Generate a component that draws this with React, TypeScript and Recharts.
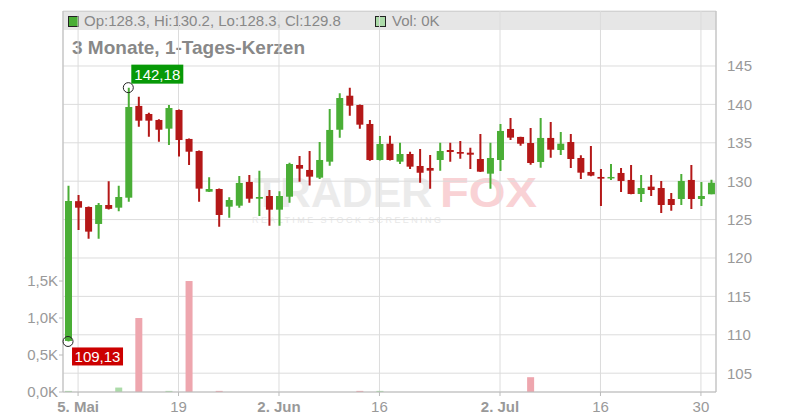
import React from "react"
import { ComposedChart, Bar, XAxis, YAxis, CartesianGrid, ReferenceDot } from "recharts"

// trading days, 2 May – 31 Jul
const dates = [
  "02.05", "05.05", "06.05", "07.05", "08.05", "09.05", "12.05", "13.05", "14.05", "15.05", "16.05",
  "19.05", "20.05", "21.05", "22.05", "23.05", "26.05", "27.05", "28.05", "29.05", "30.05",
  "02.06", "03.06", "04.06", "05.06", "06.06", "09.06", "10.06", "11.06", "12.06", "13.06",
  "16.06", "17.06", "18.06", "19.06", "20.06", "23.06", "24.06", "25.06", "26.06", "27.06", "30.06",
  "01.07", "02.07", "03.07", "04.07", "07.07", "08.07", "09.07", "10.07", "11.07",
  "14.07", "15.07", "16.07", "17.07", "18.07", "21.07", "22.07", "23.07", "24.07", "25.07",
  "28.07", "29.07", "30.07", "31.07",
]
const opens = [
  109.2, 127.4, 126.64, 124.43, 126.9, 126.55, 127.85, 139.8, 138.75, 137.97, 136.84,
  139.27, 135.5, 133.93, 128.63, 128.98, 126.68, 126.81, 129.9, 127.72, 128.07,
  126.29, 127.98, 132.11, 131.46, 130.46, 132.54, 136.7, 141.13, 139.92, 137.45,
  132.76, 134.88, 132.54, 133.54, 131.98, 131.72, 132.76, 134.06, 133.8, 133.71, 132.89,
  130.98, 132.76, 136.8, 135.76, 134.97, 132.5, 135.63, 134.06, 135.1,
  133.02, 131.2, 130.55, 130.4, 131.07, 130.16, 128.33, 129.29, 129.11, 127.68,
  127.68, 130.16, 127.68, 128.3,
]
const highs = [
  129.4, 128.2, 126.7, 127.16, 130.0, 129.4, 142.18, 141.0, 138.9, 138.05, 139.92,
  139.35, 135.55, 134.0, 130.5, 129.05, 127.9, 130.68, 130.8, 131.37, 128.85,
  128.7, 132.4, 133.28, 133.93, 135.1, 139.4, 141.44, 142.17, 140.0, 137.97,
  135.9, 135.93, 135.0, 133.84, 134.19, 133.41, 135.0, 135.0, 135.23, 134.36, 136.15,
  135.0, 137.45, 138.23, 135.8, 136.93, 138.23, 137.7, 136.4, 136.15,
  133.37, 134.58, 131.59, 132.24, 131.72, 132.11, 130.81, 130.81, 130.03, 128.46,
  130.94, 132.11, 129.9, 130.2,
]
const lows = [
  109.13, 123.65, 122.5, 122.5, 126.3, 126.1, 127.33, 137.1, 135.8, 135.14, 134.7,
  133.2, 132.1, 127.33, 128.6, 124.07, 125.25, 126.55, 127.2, 125.47, 124.2,
  124.2, 127.2, 129.93, 129.45, 130.3, 132.02, 135.67, 138.53, 136.84, 132.67,
  132.7, 132.7, 132.24, 131.59, 129.8, 129.02, 131.37, 132.54, 132.93, 131.59, 131.2,
  129.02, 131.33, 135.36, 134.62, 132.15, 131.76, 133.06, 133.41, 131.72,
  130.29, 130.65, 126.77, 130.16, 128.59, 128.3, 127.29, 128.07, 125.86, 126.16,
  126.9, 126.38, 126.77, 128.3,
]
const closes = [
  127.42, 126.55, 123.43, 126.9, 126.4, 127.94, 139.66, 137.88, 137.88, 136.7, 139.53,
  135.36, 133.84, 129.03, 128.98, 125.6, 127.55, 129.77, 127.72, 127.94, 126.29,
  128.07, 132.24, 131.63, 130.59, 132.76, 136.67, 140.83, 139.83, 137.36, 132.76,
  134.84, 132.76, 133.54, 131.89, 131.1, 131.37, 133.93, 133.8, 133.58, 133.45, 131.24,
  133.02, 136.54, 135.67, 134.88, 132.37, 135.63, 134.1, 134.88, 132.89,
  131.11, 130.72, 130.33, 130.55, 130.03, 128.33, 129.11, 128.85, 126.9, 126.9,
  130.03, 127.68, 128.07, 129.8,
]
const volumes = [
  15, 0, 0, 0, 0, 60, 0, 1000, 0, 0, 15,
  0, 1500, 0, 0, 15, 0, 0, 0, 0, 0,
  0, 0, 0, 0, 0, 0, 0, 0, 15, 0,
  15, 0, 0, 0, 0, 0, 0, 0, 0, 0, 0,
  0, 0, 0, 0, 200, 0, 0, 0, 0,
  0, 0, 0, 0, 0, 0, 0, 0, 0, 0,
  0, 0, 0, 0,
]

const dateTicks = ["05.05", "19.05", "02.06", "16.06", "02.07", "16.07", "30.07"]
const dateTickLabels = ["5. Mai", "19", "2. Jun", "16", "2. Jul", "16", "30"]
const boldTickLabels = ["5. Mai", "2. Jun", "2. Jul"]
const priceTicks = [105, 110, 115, 120, 125, 130, 135, 140, 145]
const volumeTicks = [0, 500, 1000, 1500]

const GREEN = "#4aae36"
const RED = "#b41818"
const VOL_GREEN = "#acdba9"
const VOL_RED = "#eea6ae"
const FONT = "'Liberation Sans', Arial, sans-serif"

const data = dates.map((d, i) => ({
  d,
  o: opens[i],
  h: highs[i],
  l: lows[i],
  c: closes[i],
  range: [lows[i], highs[i]],
  vol: volumes[i],
}))

const hiIdx = highs.indexOf(Math.max(...highs))
const loIdx = lows.indexOf(Math.min(...lows))

const fmt = (v: number) => v.toFixed(2).replace(".", ",")

function Candle(props: any) {
  const { x, y, width, height, payload } = props
  if (!payload) return null
  const { o, h, l, c } = payload
  const top = Math.min(y, y + height)
  const span = Math.abs(height)
  const k = h > l ? span / (h - l) : 0
  const color = c >= o ? GREEN : RED
  const bodyTop = top + (h - Math.max(o, c)) * k
  const bodyH = Math.max(1.5, Math.abs(o - c) * k)
  const mid = x + width / 2
  return (
    <g>
      <line x1={mid} x2={mid} y1={top} y2={top + span} stroke={color} strokeWidth={2} />
      <rect x={x} y={bodyTop} width={width} height={bodyH} fill={color} />
    </g>
  )
}

function VolumeBar(props: any) {
  const { x, y, width, height, payload } = props
  if (!payload || !height) return null
  const fill = payload.c >= payload.o ? VOL_GREEN : VOL_RED
  return <rect x={x} y={Math.min(y, y + height)} width={width} height={Math.abs(height)} fill={fill} />
}

function DateTick(props: any) {
  const { x, y, payload } = props
  const label = dateTickLabels[dateTicks.indexOf(payload.value)]
  return (
    <text
      x={x}
      y={y}
      dy="0.71em"
      textAnchor="middle"
      fill="#999"
      fontSize={15}
      fontFamily={FONT}
      fontWeight={boldTickLabels.includes(label) ? "bold" : "normal"}
    >
      {label}
    </text>
  )
}

function HighMark(props: any) {
  const { cx, cy } = props
  return (
    <g>
      <circle cx={cx} cy={cy} r={5} fill="none" stroke="#222" strokeWidth={1} />
      <rect x={cx + 3} y={cy - 23} width={52} height={19} fill="#079907" />
      <text x={cx + 29} y={cy - 8} textAnchor="middle" fill="#fff" fontSize={15} fontFamily={FONT}>
        {fmt(highs[hiIdx])}
      </text>
    </g>
  )
}

function LowMark(props: any) {
  const { cx, cy } = props
  return (
    <g>
      <circle cx={cx} cy={cy} r={5} fill="none" stroke="#222" strokeWidth={1} />
      <rect x={cx + 4} y={cy + 6} width={51} height={18} fill="#cc0000" />
      <text x={cx + 29.5} y={cy + 20.5} textAnchor="middle" fill="#fff" fontSize={15} fontFamily={FONT}>
        {fmt(lows[loIdx])}
      </text>
    </g>
  )
}

function Background() {
  return (
    <svg width={800} height={420} style={{ position: "absolute", left: 0, top: 0 }}>
      <rect x={63} y={11} width={653} height={19} fill="#e6e6e6" />
      <line x1={63} x2={716} y1={11.5} y2={11.5} stroke="#c8c8c8" />
      <rect x={68.5} y={16.5} width={10} height={10} fill={GREEN} stroke="#222" />
      <text x={84} y={26} fontSize={15} fill="#888" fontFamily={FONT}>
        Op:128.3, Hi:130.2, Lo:128.3, Cl:129.8
      </text>
      <rect x={375.5} y={16.5} width={10} height={10} fill={VOL_GREEN} stroke="#222" />
      <text x={392} y={26} fontSize={15} fill="#888" fontFamily={FONT}>
        Vol: 0K
      </text>
      <text x={72} y={54} fontSize={19} fontWeight="bold" fill="#888" fontFamily={FONT}>
        3 Monate, 1-Tages-Kerzen
      </text>
      <g fontFamily={FONT} fontWeight="bold" fontSize={43}>
        <text x={254} y={207} fill="#ebebeb" textLength={178} lengthAdjust="spacingAndGlyphs">TRADER</text>
        <text x={440} y={207} fill="#f9d2d5" textLength={97} lengthAdjust="spacingAndGlyphs">FOX</text>
      </g>
      <text x={252} y={223} fontSize={9} letterSpacing={2.4} fill="#e8e8e8" fontFamily={FONT}>
        REALTIME STOCK SCREENING
      </text>
    </svg>
  )
}

export default function App() {
  return (
    <div style={{ position: "absolute", left: 0, top: 0, width: 800, height: 420, background: "#fff" }}>
      <Background />
      <div style={{ position: "absolute", left: 0, top: 0 }}>
        <ComposedChart width={800} height={420} data={data} margin={{ top: 11, right: 0, bottom: 0, left: 0 }}>
          <CartesianGrid xAxisId="p" yAxisId="price" stroke="#dcdcdc" />
          <XAxis
            xAxisId="p"
            dataKey="d"
            ticks={dateTicks}
            interval={0}
            height={28}
            tick={<DateTick />}
            tickSize={4}
            tickMargin={5}
            axisLine={{ stroke: "#bbb" }}
            tickLine={{ stroke: "#bbb" }}
          />
          <XAxis xAxisId="v" dataKey="d" hide />
          <YAxis
            yAxisId="vol"
            orientation="left"
            width={63}
            domain={[0, 5150]}
            ticks={volumeTicks}
            allowDataOverflow
            tickFormatter={(v: number) => (v / 1000).toFixed(1).replace(".", ",") + "K"}
            tick={{ fill: "#999", fontSize: 15, fontFamily: FONT }}
            tickSize={4}
            tickMargin={1}
            axisLine={{ stroke: "#bbb" }}
            tickLine={{ stroke: "#bbb" }}
          />
          <YAxis
            yAxisId="price"
            orientation="right"
            width={84}
            domain={[102.55, 152.16]}
            ticks={priceTicks}
            allowDataOverflow
            tick={{ fill: "#999", fontSize: 15, fontFamily: FONT }}
            tickLine={false}
            tickMargin={5}
            axisLine={{ stroke: "#bbb" }}
          />
          <Bar
            xAxisId="v"
            yAxisId="vol"
            dataKey="vol"
            barSize={7}
            shape={<VolumeBar />}
            isAnimationActive={false}
          />
          <Bar
            xAxisId="p"
            yAxisId="price"
            dataKey="range"
            barSize={7}
            shape={<Candle />}
            isAnimationActive={false}
          />
          <ReferenceDot
            xAxisId="p"
            yAxisId="price"
            x={dates[hiIdx]}
            y={highs[hiIdx]}
            r={5}
            shape={<HighMark />}
          />
          <ReferenceDot
            xAxisId="p"
            yAxisId="price"
            x={dates[loIdx]}
            y={lows[loIdx]}
            r={5}
            shape={<LowMark />}
          />
        </ComposedChart>
      </div>
    </div>
  )
}
